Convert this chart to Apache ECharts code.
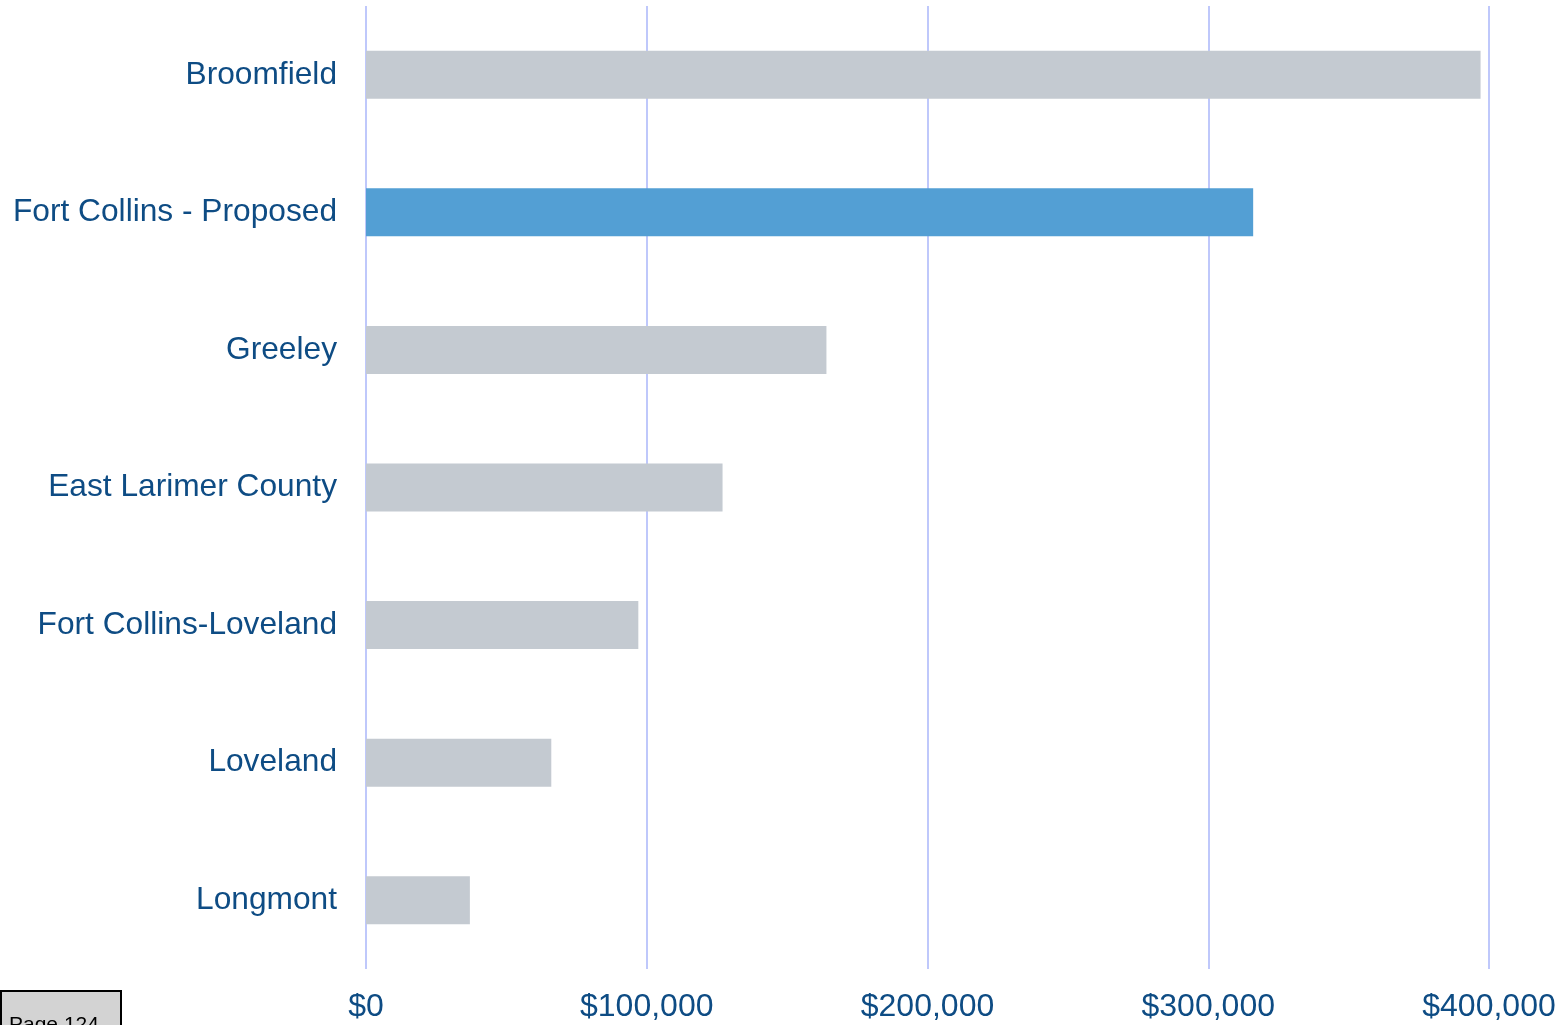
<!DOCTYPE html>
<html>
<head>
<meta charset="utf-8">
<script src="https://cdn.jsdelivr.net/npm/echarts@6/dist/echarts.min.js"></script>
<style>
  html, body { margin: 0; padding: 0; background: #ffffff; }
  #chart { width: 1560px; height: 1025px; }
</style>
</head>
<body>
<div id="chart"></div>
<script>
// Jurisdictions, top to bottom
const categories = [
  'Broomfield',
  'Fort Collins - Proposed',
  'Greeley',
  'East Larimer County',
  'Fort Collins-Loveland',
  'Loveland',
  'Longmont'
];
// Dollar amounts per jurisdiction
const values = [397000, 316000, 164000, 127000, 97000, 66000, 37000];
// The highlighted jurisdiction
const highlight = 'Fort Collins - Proposed';
// Axis ticks
const xTicks = [0, 100000, 200000, 300000, 400000];

const grey = '#c4cad1';
const blue = '#539fd4';
const textBlue = '#0e4c84';
const font = '"Liberation Sans", Arial, sans-serif';

const chart = echarts.init(document.getElementById('chart'), null, { renderer: 'canvas' });

chart.setOption({
  animation: false,
  backgroundColor: '#ffffff',
  grid: { left: 366, right: 71, top: 6, bottom: 56, containLabel: false },
  xAxis: {
    type: 'value',
    min: xTicks[0],
    max: xTicks[xTicks.length - 1],
    interval: xTicks[1] - xTicks[0],
    axisLine: { show: false },
    axisTick: { show: false },
    splitLine: { show: true, lineStyle: { color: '#bfc8fb', width: 2 } },
    axisLabel: {
      color: textBlue,
      fontFamily: font,
      fontSize: 32,
      margin: 22,
      formatter: v => '$' + v.toLocaleString('en-US')
    }
  },
  yAxis: {
    type: 'category',
    data: categories,
    inverse: true,
    axisLine: { show: false },
    axisTick: { show: false },
    splitLine: { show: false },
    axisLabel: {
      color: textBlue,
      fontFamily: font,
      fontSize: 31.7,
      margin: 29,
      lineHeight: 36,
      padding: [6, 0, 0, 0]
    }
  },
  series: [{
    type: 'bar',
    barWidth: 48,
    data: values.map((v, i) => ({
      value: v,
      itemStyle: { color: categories[i] === highlight ? blue : grey }
    }))
  }],
  graphic: [{
    type: 'group',
    left: 0,
    top: 990,
    children: [
      {
        type: 'rect',
        shape: { x: 0, y: 0, width: 120, height: 50 },
        style: { fill: '#d3d3d3', stroke: '#000000', lineWidth: 2 }
      },
      {
        type: 'text',
        x: 8,
        y: 34,
        style: {
          text: 'Page 124',
          fill: '#000000',
          font: '21px "Liberation Sans", Arial, sans-serif',
          textVerticalAlign: 'middle'
        }
      }
    ]
  }]
});
</script>
</body>
</html>
